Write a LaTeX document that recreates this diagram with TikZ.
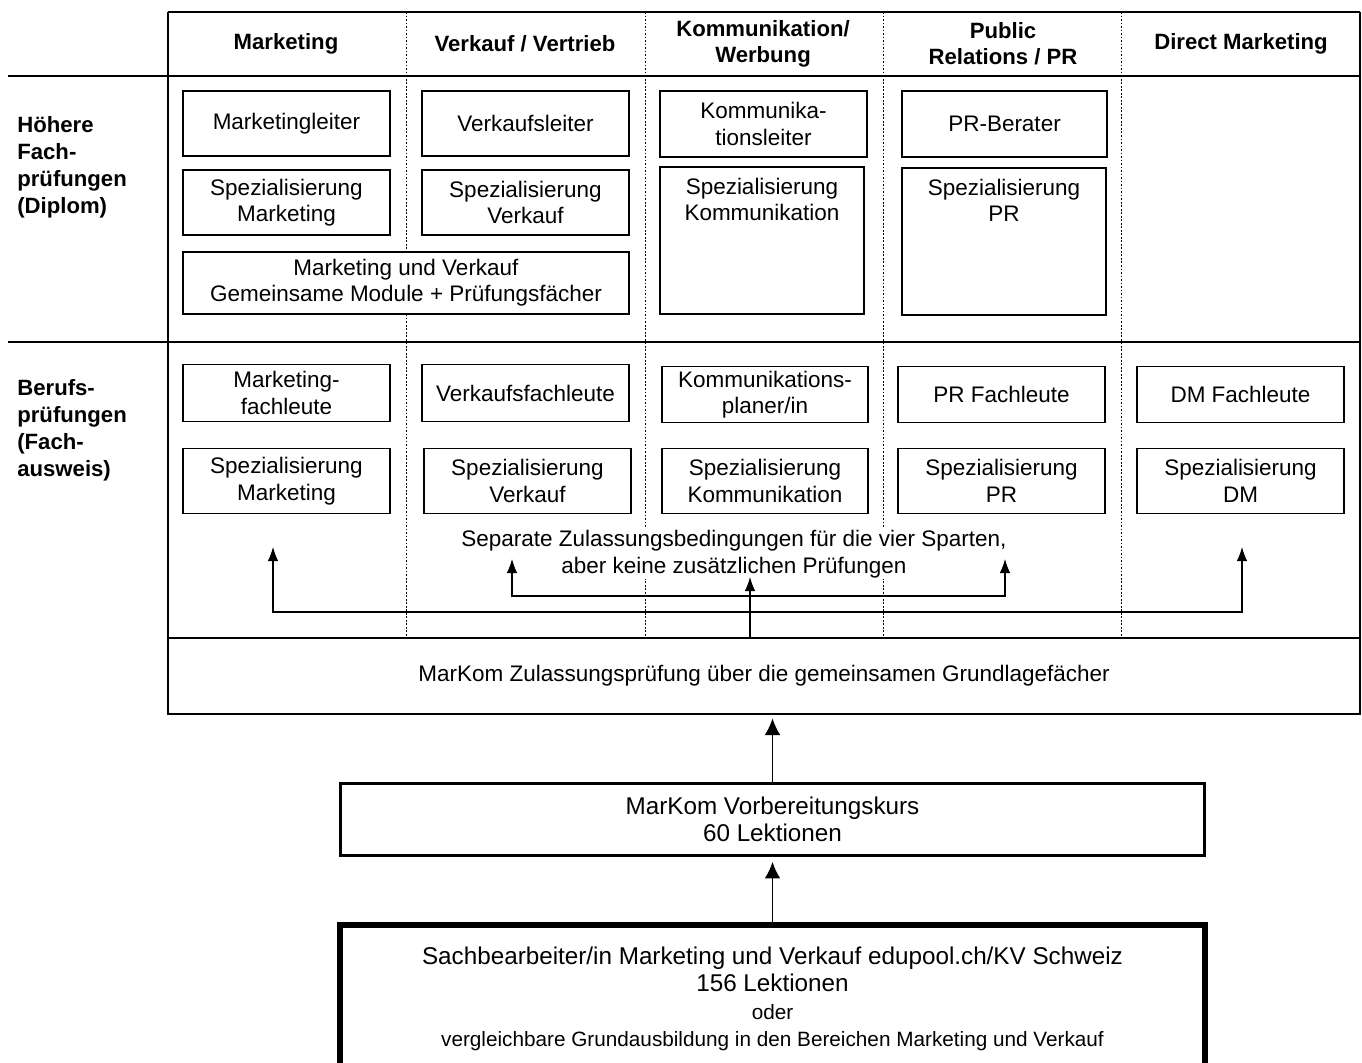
\documentclass[tikz,border=0pt]{standalone}
\usepackage{fontspec}
\setmainfont{Liberation Sans}
\usetikzlibrary{arrows.meta,positioning}
\begin{document}
\begin{tikzpicture}
[
 x=0.02cm,y=-0.02cm,
 >={Latex[length=8pt,width=6pt]},
 align=center,
 inner sep=0pt,
 font=\fontsize{12.8}{15}\selectfont,
 rule/.style={line width=0.9pt},
 column/.style={line width=0.5pt,dash pattern=on 1pt off 1pt},
 head/.style={font=\fontsize{12.6}{15}\selectfont\bfseries},
 level/.style={font=\fontsize{12.6}{15.3}\selectfont\bfseries,align=left,anchor=north west},
 box/.style={draw=black,fill=white,rectangle,line width=0.7pt,minimum width=4.14cm,minimum height=1.3cm},
 tallbox/.style={box,minimum width=4.08cm,minimum height=2.94cm},
 lowbox/.style={box,minimum height=1.13cm},
 course/.style={draw=black,font=\fontsize{13.8}{15.5}\selectfont,minimum width=17.3cm},
 link/.style={->,line width=0.6pt},
 bigarrow/.style={-{Latex[length=9.5pt,width=9pt]},line width=1.1pt}
]
\useasboundingbox (0,0) rectangle (1362,1062);
\clip (0,0) rectangle (1362,1062);
\draw[rule] (168,12) -- (1360,12);
\draw[rule] (8,76) -- (1360,76);
\draw[rule] (8,342) -- (1360,342);
\draw[rule] (168,12) -- (168,638);
\draw[rule] (1360,12) -- (1360,638);
\foreach \x in {406,645,883,1121}
  \draw[column] (\x,12) -- (\x,638);
\node (h-mkt) [head] at (286,44) {Marketing};
\node (h-vk) [head] at (525,44) {Verkauf / Vertrieb};
\node (h-kom) [head] at (763,44) {Kommunikation/\\Werbung};
\node (h-pr) [head] at (1003,44) {Public\\Relations / PR};
\node (h-dm) [head] at (1241,44) {Direct Marketing};
\node (l-hfp) [level] at (17,116) {Höhere\\Fach-\\prüfungen\\(Diplom)};
\node (l-bp) [level] at (17,379) {Berufs-\\prüfungen\\(Fach-\\ausweis)};
\node (mkt-leiter) [box] at (286.5,123.5) {Marketingleiter};
\node (mkt-spez-hfp) [box] at (286.5,202.5) {Spezialisierung\\Marketing};
\node (vk-leiter) [box] at (525.5,123.5) {Verkaufsleiter};
\node (vk-spez-hfp) [box] at (525.5,202.5) {Spezialisierung\\Verkauf};
\node (mv-module) [box,minimum width=8.92cm,minimum height=1.24cm] at (406,283) {Marketing und Verkauf\\Gemeinsame Module + Prüfungsfächer};
\node (kom-leiter) [box,minimum height=1.32cm] at (763.5,124) {Kommunika-\\tionsleiter};
\node (kom-spez-hfp) [tallbox] at (762,240.5) {};
\node (kom-spez-hfp-text) [below=6.5pt of kom-spez-hfp.north] {Spezialisierung\\Kommunikation};
\node (pr-berater) [box,minimum width=4.1cm,minimum height=1.32cm] at (1004.5,124) {PR-Berater};
\node (pr-spez-hfp) [tallbox] at (1004,241.5) {};
\node (pr-spez-hfp-text) [below=6.5pt of pr-spez-hfp.north] {Spezialisierung\\PR};
\node (mkt-fachleute) [lowbox] at (286.5,393) {Marketing-\\fachleute};
\node (vk-fachleute) [lowbox] at (525.5,393) {Verkaufsfachleute};
\node (kom-planer) [lowbox,minimum width=4.12cm] at (765,394.5) {Kommunikations-\\planer/in};
\node (pr-fachleute) [lowbox] at (1001.5,394.5) {PR Fachleute};
\node (dm-fachleute) [lowbox] at (1240.5,394.5) {DM Fachleute};
\node (mkt-spez-bp) [box] at (286.5,481) {Spezialisierung\\Marketing};
\node (vk-spez-bp) [box] at (527.5,481) {Spezialisierung\\Verkauf};
\node (kom-spez-bp) [box,minimum width=4.12cm] at (765,481) {Spezialisierung\\Kommunikation};
\node (pr-spez-bp) [box] at (1001.5,481) {Spezialisierung\\PR};
\node (dm-spez-bp) [box] at (1240.5,481) {Spezialisierung\\DM};
\node (sparten) [fill=white,inner sep=1pt] at (734,554) {Separate Zulassungsbedingungen für die vier Sparten,\\aber keine zusätzlichen Prüfungen};
\node (zulassung) [draw,rule,minimum width=23.84cm,minimum height=1.52cm] at (764,676) {MarKom Zulassungsprüfung über die gemeinsamen Grundlagefächer};
\node (kurs) [course,line width=1.7pt,minimum height=1.44cm] at (772.5,819) {MarKom Vorbereitungskurs\\60 Lektionen};
\node (sachbearbeiter) [course,line width=3.4pt,minimum height=3.4cm,anchor=north] at (772.5,922) {};
\node (sachbearbeiter-text) [course,draw=none,minimum width=0pt,below=14pt of sachbearbeiter.north] {Sachbearbeiter/in Marketing und Verkauf edupool.ch/KV Schweiz\\156 Lektionen\\{\fontsize{11.8}{13}\selectfont oder}\\{\fontsize{11.8}{13}\selectfont vergleichbare Grundausbildung in den Bereichen Marketing und Verkauf}};
\coordinate (zul-out) at (750,638);
\coordinate (bar-outer) at (750,612);
\coordinate (bar-inner) at (750,596);
\coordinate (tip-mkt) at (273,547);
\coordinate (tip-vk) at (512,559);
\coordinate (tip-kom) at (750,577);
\coordinate (tip-pr) at (1005,559);
\coordinate (tip-dm) at (1242,547);
\draw[link] (zul-out) -- (tip-kom);
\draw[link] (bar-outer) -| (tip-mkt);
\draw[link] (bar-outer) -| (tip-dm);
\draw[link] (bar-inner) -| (tip-vk);
\draw[link] (bar-inner) -| (tip-pr);
\draw[bigarrow,shorten >=2pt] (kurs.north) -- (zulassung.south -| kurs.north);
\draw[bigarrow,shorten >=3pt] (sachbearbeiter.north) -- (kurs.south);
\end{tikzpicture}
\end{document}
